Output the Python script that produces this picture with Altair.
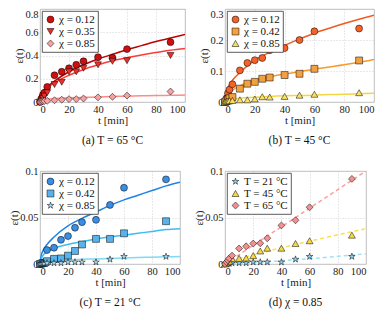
import altair as alt
import pandas as pd

# ---------------- data ----------------
t_obs = [0, 1, 2, 3, 5, 10, 15, 20, 25, 30, 40, 50, 60, 90]
t_fit = [0, 1, 2, 5, 10, 20, 30, 40, 50, 60, 70, 80, 90, 100]
t_lin = [0, 50, 100]

# (a) T = 65 C
a_labels = ["χ = 0.12", "χ = 0.35", "χ = 0.85"]
a_012 = [0, 0.03, 0.06, 0.08, 0.13, 0.23, 0.26, 0.29, 0.32, 0.35, 0.385, 0.38, 0.455, 0.515]
a_035 = [0, 0.01, 0.03, 0.05, 0.08, 0.15, 0.17, 0.26, 0.26, 0.29, 0.32, 0.35, 0.355, 0.40]
a_085 = [0, 0.004, 0.006, 0.008, 0.01, 0.015, 0.02, 0.025, 0.025, 0.03, 0.04, 0.045, 0.055, 0.09]
a_fit_012 = [0, 0.06, 0.085, 0.13, 0.18, 0.26, 0.32, 0.37, 0.41, 0.45, 0.485, 0.52, 0.55, 0.58]
a_fit_035 = [0, 0.05, 0.075, 0.12, 0.165, 0.23, 0.28, 0.32, 0.355, 0.38, 0.405, 0.425, 0.445, 0.46]
a_fit_085 = [0, 0.012, 0.016, 0.022, 0.03, 0.036, 0.04, 0.044, 0.047, 0.05, 0.053, 0.055, 0.057, 0.06]

# (b) T = 45 C
b_labels = ["χ = 0.12", "χ = 0.42", "χ = 0.85"]
b_012 = [0, 0.012, 0.028, 0.04, 0.057, 0.102, 0.126, 0.135, 0.142, 0.167, 0.174, 0.2, 0.228, 0.237]
b_042 = [0, 0.004, 0.008, 0.012, 0.016, 0.043, 0.059, 0.065, 0.075, 0.079, 0.087, 0.091, 0.107, 0.134]
b_085 = [0, 0.002, 0.003, 0.004, 0.005, 0.007, 0.007, 0.01, 0.017, 0.016, 0.018, 0.022, 0.025, 0.03]
b_fit_012 = [0, 0.035, 0.047, 0.07, 0.095, 0.135, 0.16, 0.183, 0.203, 0.222, 0.238, 0.253, 0.267, 0.28]
b_fit_042 = [0, 0.016, 0.024, 0.038, 0.052, 0.07, 0.081, 0.09, 0.098, 0.106, 0.113, 0.12, 0.128, 0.137]
b_fit_085 = [0, 0.004, 0.006, 0.009, 0.012, 0.015, 0.018, 0.02, 0.021, 0.022, 0.024, 0.025, 0.027, 0.028]

# (c) T = 21 C
c_labels = ["χ = 0.12 ", "χ = 0.42 ", "χ = 0.85 "]
c_012 = [0, 0.0005, 0.001, 0.002, 0.015, 0.0175, 0.026, 0.03, 0.039, 0.045, 0.0475, 0.0635, 0.082, 0.091]
c_042 = [0, 0.0005, 0.001, 0.001, 0.003, 0.0055, 0.006, 0.009, 0.014, 0.021, 0.027, 0.027, 0.033, 0.046]
c_085 = [0, 0.0003, 0.0005, 0.0005, 0.001, 0.001, 0.001, 0.002, 0.002, 0.002, 0.002, 0.005, 0.008, 0.008]
c_fit_012 = [0, 0.01, 0.014, 0.021, 0.029, 0.041, 0.049, 0.056, 0.063, 0.069, 0.074, 0.079, 0.084, 0.088]
c_fit_042 = [0, 0.006, 0.009, 0.013, 0.017, 0.021, 0.024, 0.027, 0.029, 0.031, 0.033, 0.035, 0.037, 0.038]
c_fit_085 = [0, 0.001, 0.0015, 0.0025, 0.0035, 0.0045, 0.005, 0.0055, 0.006, 0.0065, 0.007, 0.0073, 0.0077, 0.008]

# (d) chi = 0.85
d_labels = ["T = 21 °C", "T = 45 °C", "T = 65 °C"]
d_21 = [0, 0.0003, 0.0005, 0.0005, 0.001, 0.001, 0.001, 0.002, 0.002, 0.002, 0.002, 0.005, 0.008, 0.008]
d_45 = [0, 0.001, 0.002, 0.003, 0.0057, 0.006, 0.0064, 0.009, 0.014, 0.017, 0.017, 0.022, 0.025, 0.031]
d_65 = [0, 0.002, 0.004, 0.006, 0.009, 0.0167, 0.019, 0.022, 0.0223, 0.0277, 0.0415, 0.047, 0.061, 0.0915]
d_fit_21 = [0, 0.0045, 0.011]
d_fit_45 = [0.002, 0.021, 0.038]
d_fit_65 = [0, 0.05, 0.1]

STAR = ("M0,-1L0.225,-0.309L0.951,-0.309L0.363,0.118L0.588,0.809L0,0.382"
        "L-0.588,0.809L-0.363,0.118L-0.951,-0.309L-0.225,-0.309Z")

FONT = "Liberation Serif"
H = 93


def panel(key, labels, obs, fits, tfit, fills, shapes, lcolors, ymax, yvals, caption,
          width, dashed=False, flush=False):
    rows = []
    for lab, ys in zip(labels, obs):
        for t, y in zip(t_obs, ys):
            rows.append({"t": t, key: y, "s" + key: lab})
    pdf = pd.DataFrame(rows)

    xenc = alt.X("t:Q", scale=alt.Scale(domain=[0, 100], nice=False),
                 axis=alt.Axis(values=[0, 20, 40, 60, 80, 100], title="t [min]"))
    yax = dict(values=yvals, title="ε(t)",
               labelExpr="datum.value == 0 ? '0' : format(datum.value, '~g')")
    if flush:
        yax["labelBaseline"] = {"condition": {"test": "datum.value == %s" % ymax, "value": "top"},
                                "value": "middle"}
    yenc = alt.Y(key + ":Q", scale=alt.Scale(domain=[0, ymax], nice=False),
                 axis=alt.Axis(**yax))

    layers = []
    for lab, ys, c in zip(labels, fits, lcolors):
        ldf = pd.DataFrame({"t": tfit, key: ys})
        mk = dict(color=c, strokeWidth=1.5, interpolate="monotone", clip=True)
        if dashed:
            mk["strokeDash"] = [4, 3]
        layers.append(alt.Chart(ldf).mark_line(**mk).encode(x=xenc, y=yenc))

    pts = alt.Chart(pdf).mark_point(filled=True, opacity=1, stroke="black",
                                     strokeWidth=0.5, size=48).encode(
        x=xenc, y=yenc,
        color=alt.Color("s" + key + ":N", scale=alt.Scale(domain=labels, range=fills),
                        legend=alt.Legend(title=None, orient="top-left", offset=2)),
        shape=alt.Shape("s" + key + ":N", scale=alt.Scale(domain=labels, range=shapes)),
    )
    layers.append(pts)
    return alt.layer(*layers).properties(
        width=width, height=H,
        title=alt.TitleParams(caption, orient="bottom", font=FONT, fontSize=11.5,
                              fontWeight="normal", color="#111", offset=9),
    )


pa = panel("ya", a_labels, [a_012, a_035, a_085], [a_fit_012, a_fit_035, a_fit_085], t_fit,
           ["#cc1010", "#e8302c", "#f4a2a2"], ["circle", "triangle-down", "diamond"],
           ["#c00000", "#ff3a3a", "#ff8a8a"], 0.8, [0, 0.2, 0.4, 0.6, 0.8], "(a)  T = 65 °C",
           145, flush=True)
pb = panel("yb", b_labels, [b_012, b_042, b_085], [b_fit_012, b_fit_042, b_fit_085], t_fit,
           ["#f4622a", "#f5a040", "#f8e060"], ["circle", "square", "triangle-up"],
           ["#f05a1e", "#f59a2e", "#f2d642"], 0.3, [0, 0.1, 0.2, 0.3], "(b)  T = 45 °C",
           149, flush=True)
pc = panel("yc", c_labels, [c_012, c_042, c_085], [c_fit_012, c_fit_042, c_fit_085], t_fit,
           ["#3a8ee6", "#5ab2ea", "#a8dcf2"], ["circle", "square", STAR],
           ["#1f84e6", "#3cbcf2", "#7fdaf2"], 0.1, [0, 0.05, 0.1], "(c)  T = 21 °C",
           140)
pd_ = panel("yd", d_labels, [d_21, d_45, d_65], [d_fit_21, d_fit_45, d_fit_65], t_lin,
            ["#8fd2f2", "#f8d840", "#f49090"], [STAR, "triangle-up", "diamond"],
            ["#a0e2f2", "#f8e050", "#f8a0a0"], 0.1, [0, 0.05, 0.1], "(d)  χ = 0.85",
            141, dashed=True)

row1 = alt.hconcat(pa, pb, spacing=12).resolve_scale(color="independent", shape="independent")
row2 = alt.hconcat(pc, pd_, spacing=12).resolve_scale(color="independent", shape="independent")

chart = alt.vconcat(row1, row2, spacing=18).resolve_scale(
    color="independent", shape="independent"
).properties(
    padding={"left": 0, "top": 0, "right": 0, "bottom": 0},
).configure_view(
    stroke="#b0b0b0", strokeWidth=0.8,
).configure_axis(
    labelFont=FONT, labelFontSize=10.5, labelColor="#222",
    titleFont=FONT, titleFontSize=11, titleFontWeight="normal", titleColor="#222",
    grid=True, gridDash=[1, 2], gridColor="#c8c8c8", gridWidth=0.8,
    domain=False, ticks=False, labelPadding=2, titlePadding=0,
).configure_legend(
    strokeColor="#333", fillColor="white", strokeWidth=0.8, padding=3,
    labelFont=FONT, labelFontSize=11, labelColor="#111",
    symbolSize=48, symbolStrokeColor="black", symbolStrokeWidth=0.5,
    rowPadding=0, cornerRadius=0, labelOffset=3,
)

chart.save("out.html", embed_options={"renderer": "svg", "actions": False})
